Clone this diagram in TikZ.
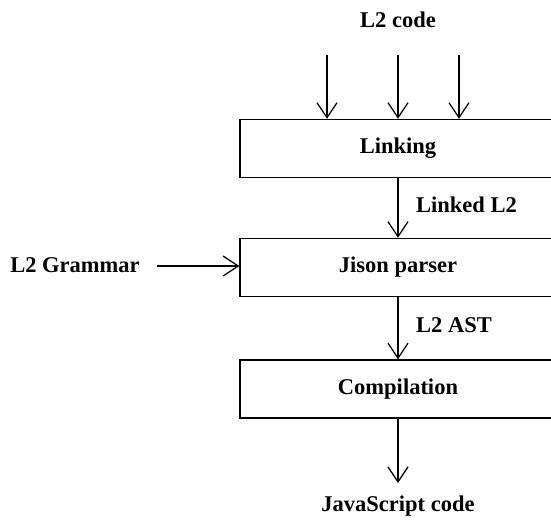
\documentclass[tikz,border=0pt]{standalone}
\usepackage{fontspec}
\setmainfont{Liberation Serif}
\usetikzlibrary{positioning, calc, arrows.meta}

\tikzset{
    fase/.style={draw, line width=1.3pt, minimum width=316pt, minimum height=58pt, inner sep=0pt},
    freccia/.style={line width=1.3pt, -{Straight Barb[length=15pt, width=20pt, line width=1.3pt]}},
    testo/.style={inner sep=0pt, font=\bfseries\fontsize{22.5}{27}\selectfont}
}

\begin{document}
\begin{tikzpicture}[x=1pt, y=-1pt, every node/.append style={testo}]
        \useasboundingbox (0,0) rectangle (551,523);
        %blocchi
        \node[fase] (linking) at (398,148.5) {Linking};
        \node[fase] (parser) at (398,267.5) {Jison parser};
        \node[fase] (compilation) at (398,389) {Compilation};
        
        %ingressi e uscita
        \node (codice) at (398,20) {L2 code};
        \node (grammatica) at (75,265) {L2 Grammar};
        \node (js) at (398,506) {JavaScript code};
        \coordinate (in1) at (327,55);
        \coordinate (in2) at (398,55);
        \coordinate (in3) at (459,55);
        \coordinate (out) at (398,483);
        
        %frecce in ingresso
        \draw[freccia] (in1) -- (in1 |- linking.north);
        \draw[freccia] (in2) -- (in2 |- linking.north);
        \draw[freccia] (in3) -- (in3 |- linking.north);
        \draw[freccia] (157,266) -- (parser.west |- 0,266);
        
        %frecce tra i blocchi e label
        \draw[freccia] (linking) -- (parser);
        \node[anchor=west] at (416,205) {Linked L2};
        %----
        \draw[freccia] (parser) -- (compilation);
        \node[anchor=west] at (416,325) {L2 AST};
        %----
        \draw[freccia] (compilation) -- (out);
    \end{tikzpicture}
\end{document}
